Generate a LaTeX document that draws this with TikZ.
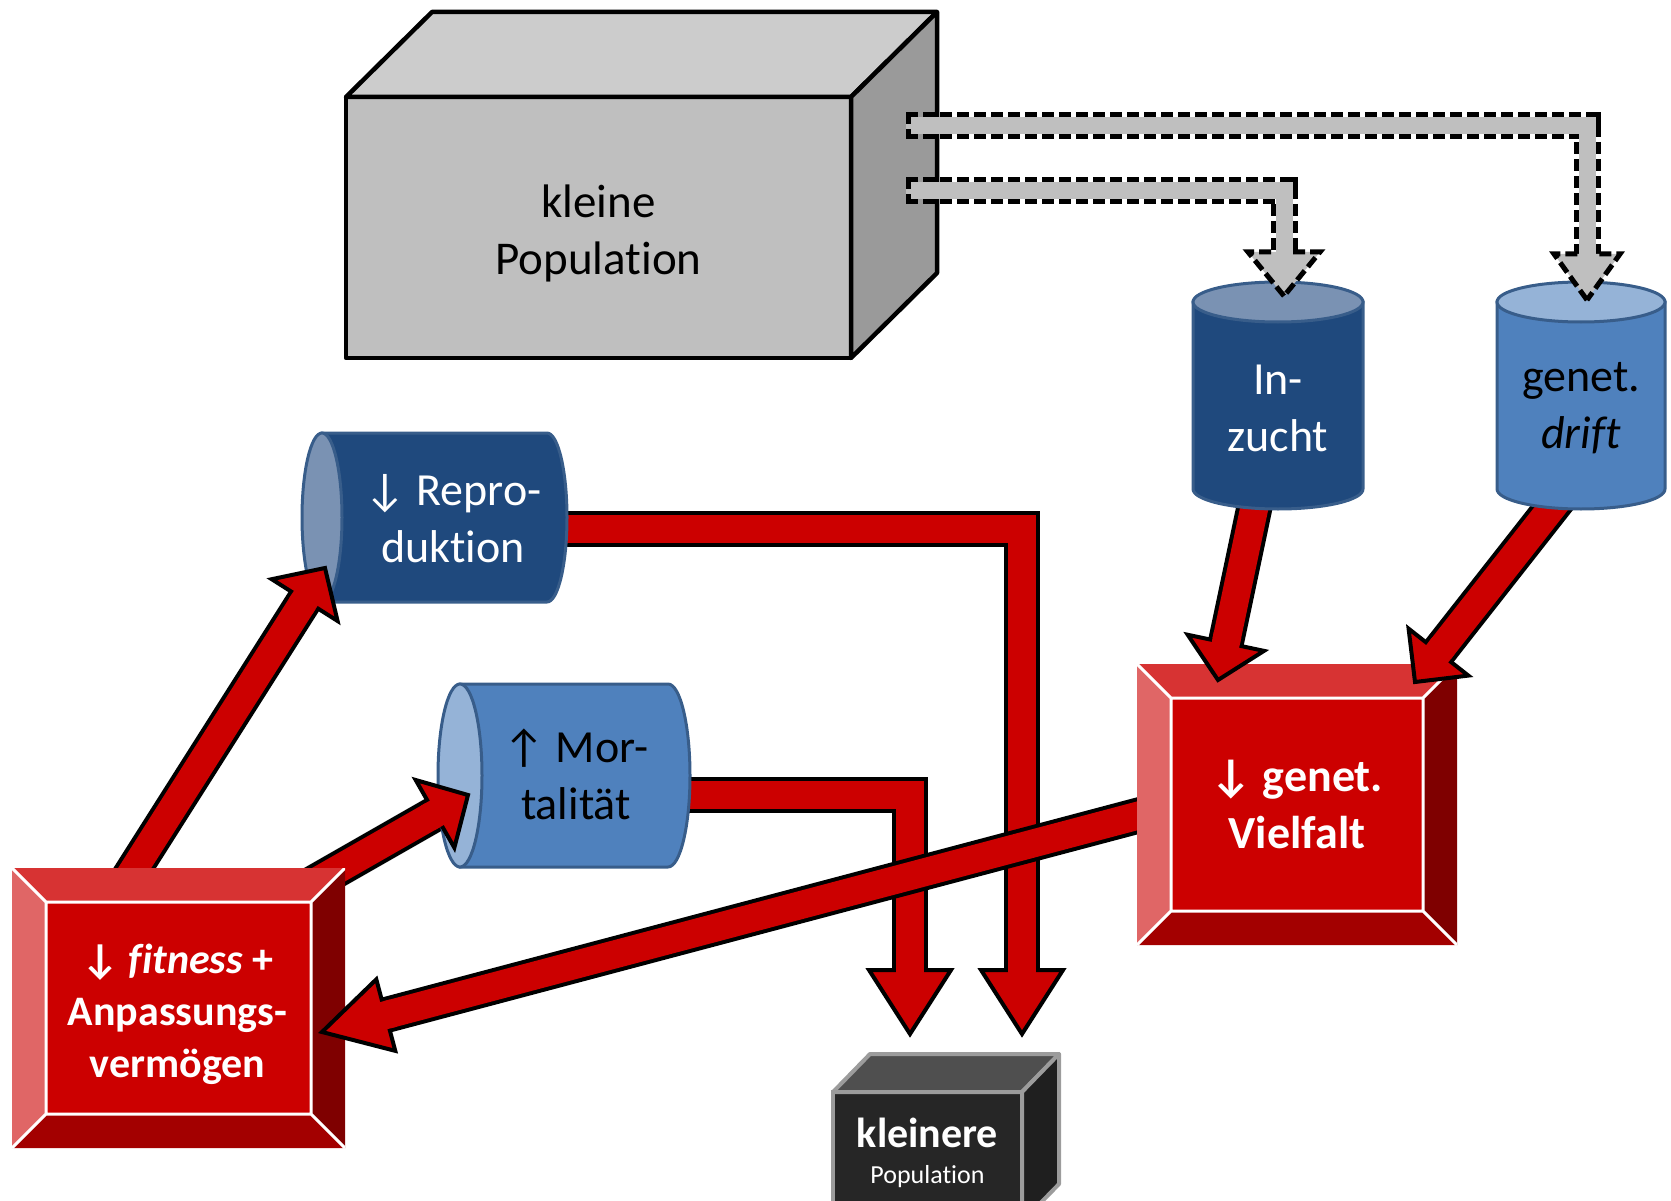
\documentclass[tikz,border=0pt]{standalone}
\usepackage{fontspec}
\setmainfont{Carlito}[Ligatures=NoCommon]
\usetikzlibrary{calc}

\definecolor{boxfront}{HTML}{BFBFBF}
\definecolor{boxtop}{HTML}{CCCCCC}
\definecolor{boxside}{HTML}{9A9A9A}
\definecolor{darkblue}{HTML}{1F497D}
\definecolor{darkbluetop}{HTML}{7A92B3}
\definecolor{midblue}{HTML}{4F81BD}
\definecolor{midbluetop}{HTML}{95B3D7}
\definecolor{cylrim}{HTML}{385D8A}
\definecolor{arrowred}{HTML}{CC0000}
\definecolor{bevtop}{HTML}{D73333}
\definecolor{bevleft}{HTML}{E06666}
\definecolor{bevbottom}{HTML}{A30000}
\definecolor{bevright}{HTML}{7F0000}
\definecolor{darkfront}{HTML}{262626}
\definecolor{darktop}{HTML}{4F4F4F}
\definecolor{darkside}{HTML}{1F1F1F}
\definecolor{darkrim}{HTML}{9C9C9C}

\pgfdeclarelayer{bg}
\pgfsetlayers{bg,main}

\tikzset{
  face/.style={line width=4.5pt, line join=round},
  cylrimline/.style={draw=cylrim, line width=3pt},
  cyltext/.style={align=center, font=\fontsize{46}{57}\selectfont},
  shaft/.style={draw=black, line width=4pt, double=arrowred, double distance=28pt},
  redtip/.style={fill=arrowred, draw=black, line width=4pt},
  grayshaft/.style={draw=boxfront, line width=17pt,
    preaction={draw=black, line width=27pt, dash pattern=on 12pt off 5pt}},
  graytip/.style={fill=boxfront, draw=black, line width=5pt, dash pattern=on 12pt off 5pt},
  bevelbox/.style={rectangle, fill=arrowred,
    path picture={
      \coordinate (pnw) at (path picture bounding box.north west);
      \coordinate (pne) at (path picture bounding box.north east);
      \coordinate (psw) at (path picture bounding box.south west);
      \coordinate (pse) at (path picture bounding box.south east);
      \fill[bevtop] (pnw) -- (pne) -- ++(-34,34) -- ([shift={(34,34)}]pnw) -- cycle;
      \fill[bevleft] (pnw) -- ++(34,34) -- ([shift={(34,-34)}]psw) -- (psw) -- cycle;
      \fill[bevbottom] (psw) -- ++(34,-34) -- ([shift={(-34,-34)}]pse) -- (pse) -- cycle;
      \fill[bevright] (pne) -- ++(-34,34) -- ([shift={(-34,-34)}]pse) -- (pse) -- cycle;
      \draw[white, line width=3pt] ([shift={(34,34)}]pnw) rectangle ([shift={(-34,-34)}]pse)
        (pnw) -- ++(34,34) (pne) -- ++(-34,34) (psw) -- ++(34,-34) (pse) -- ++(-34,-34);
    }},
  beveltext/.style={text=white, align=center}
}

% standing cylinder: centre, half width, half height, radius of end, body, end
\newcommand\vcyl[6]{%
  \filldraw[cylrimline, fill=#5] ($(#1)+(-#2,-#3+#4)$) -- ($(#1)+(-#2,#3-#4)$)
    arc[start angle=180, end angle=360, x radius=#2pt, y radius=#4pt] -- ($(#1)+(#2,-#3+#4)$) -- cycle;
  \filldraw[cylrimline, fill=#6] ($(#1)+(0,-#3+#4)$) ellipse[x radius=#2pt, y radius=#4pt];
}
% lying cylinder, open end on the left: centre, half length, half height, radius of end, body, end
\newcommand\hcyl[6]{%
  \filldraw[cylrimline, fill=#5] ($(#1)+(-#2+#4,-#3)$) -- ($(#1)+(#2-#4,-#3)$)
    arc[start angle=90, end angle=-90, x radius=#4pt, y radius=#3pt] -- ($(#1)+(-#2+#4,#3)$) -- cycle;
  \filldraw[cylrimline, fill=#6] ($(#1)+(-#2+#4,0)$) ellipse[x radius=#4pt, y radius=#3pt];
}
% head of a block arrow: tip, point behind it, length, half width
\newcommand\redhead[4]{%
  \draw[redtip] (#1) -- ($(#1)!#3!(#2)!#4!90:(#2)$) -- ($(#1)!#3!(#2)!#4!-90:(#2)$) -- cycle;
  \draw[arrowred, line width=28pt] ($(#1)!#3!(#2)!3pt!(#1)$) -- ($(#1)!#3!(#2)!8pt!(#2)$);
}
\newcommand\grayhead[4]{%
  \draw[graytip] (#1) -- ($(#1)!#3!(#2)!#4!90:(#2)$) -- ($(#1)!#3!(#2)!#4!-90:(#2)$) -- cycle;
  \draw[boxfront, line width=17pt] ($(#1)!#3!(#2)!4pt!(#1)$) -- ($(#1)!#3!(#2)!8pt!(#2)$);
}

\begin{document}
\begin{tikzpicture}[x=1pt, y=-1pt, every node/.style={outer sep=0pt}]
  \useasboundingbox (0,0) rectangle (1671,1201);

  % kleine Population
  \node[rectangle, draw=black, face, fill=boxfront, minimum width=505, minimum height=261] (big) at (598.5,227.5) {};
  \draw[face, fill=boxtop] (big.north west) -- ++(86,-85) -- ++(505,0) -- (big.north east) -- cycle;
  \draw[face, fill=boxside] (big.north east) -- ++(86,-85) -- ++(0,261) -- (big.south east) -- cycle;
  \node[align=center, font=\fontsize{47}{57}\selectfont] (bigText) at ([shift={(0,6)}]big.center) {kleine\\Population};

  % cylinders
  \vcyl{1278,395.5}{85}{113.5}{20}{darkblue}{darkbluetop}
  \vcyl{1581,395.5}{84}{113.5}{20}{midblue}{midbluetop}
  \hcyl{434.5,517.5}{132.5}{84.5}{20}{darkblue}{darkbluetop}
  \hcyl{564,775.5}{126}{91.5}{22}{midblue}{midbluetop}

  \node[cyltext, text=white] (inzucht) at (1278,408.5) {In-\\zucht};
  \node[cyltext] (drift) at (1581,408.5) {genet.\\\textit{drift}};
  \node[cyltext, text=white] (repro) at (453,518.5) {↓ Repro-\\duktion};
  \node[cyltext] (mort) at (576,774.5) {↑ Mor-\\talität};

  % bevelled boxes
  \node[bevelbox, minimum width=320, minimum height=281] (vielfalt) at (1297,804.5) {};
  \node[bevelbox, minimum width=333, minimum height=280] (fitness) at (178.5,1008) {};
  \node[beveltext, font=\bfseries\fontsize{46}{57}\selectfont] (vielfaltText) at (vielfalt.center) {↓ genet.\\Vielfalt};
  \node[beveltext, font=\bfseries\fontsize{42}{52}\selectfont] (fitnessText) at ([shift={(-1,6)}]fitness.center)
    {↓ \textit{fitness} +\\Anpassungs-\\vermögen};

  % kleinere Population
  \node[rectangle, draw=darkrim, line width=4pt, fill=darkfront, minimum width=189, minimum height=130] (kleiner) at (927.5,1157) {};
  \draw[darkrim, line width=4pt, line join=round, fill=darktop] (kleiner.north west) -- ++(37,-38) -- ++(189,0) -- (kleiner.north east) -- cycle;
  \draw[darkrim, line width=4pt, line join=round, fill=darkside] (kleiner.north east) -- ++(37,-38) -- ++(0,130) -- (kleiner.south east) -- cycle;
  \node[text=white, align=center, font=\fontsize{26}{37}\selectfont] (kleinerText) at ([shift={(0,-4)}]kleiner.center)
    {{\bfseries\fontsize{42}{46}\selectfont kleinere}\\[-1pt]Population};

  % arrow ends
  \coordinate (fitA) at ([shift={(-56.5,20)}]fitness.north);
  \coordinate (fitB) at ([shift={(-45,23)}]fitness.north east);
  \coordinate (vielA) at ([shift={(43,0)}]vielfalt.west);
  \coordinate (inzuchtA) at ([shift={(0,-13)}]inzucht.center);
  \coordinate (driftA) at ([shift={(59,-13)}]drift.center);
  \coordinate (reproA) at ([shift={(-18.5,10.5)}]repro.center);
  \coordinate (mortA) at ([shift={(-12,20.5)}]mort.center);
  \coordinate (bigA) at ([shift={(55,-101.5)}]big.east);
  \coordinate (bigB) at ([shift={(55,-36.5)}]big.east);
  \coordinate (reproIn) at (325,568);
  \coordinate (mortIn) at (468,795);
  \coordinate (fitIn) at (322,1032);
  \coordinate (vielIn) at (1218,680);
  \coordinate (vielInB) at (1415,682);
  \coordinate (kleinL) at (910,1034);
  \coordinate (kleinR) at (1022,1034);
  \coordinate (inzuchtIn) at (1284,296);
  \coordinate (driftIn) at (1587,300);

  \begin{pgfonlayer}{bg}
    \draw[shaft] (reproA) -| ($(kleinR)+(0,-64)$);
    \draw[shaft] (mortA) -| ($(kleinL)+(0,-64)$);
    \draw[shaft] (fitA) -- ($(reproIn)!38pt!(fitA)$);
    \draw[shaft] (fitB) -- ($(mortIn)!38pt!(fitB)$);
    \draw[shaft] (inzuchtA) -- ($(vielIn)!38pt!(inzuchtA)$);
    \draw[shaft] (driftA) -- ($(vielInB)!38pt!(driftA)$);
    \draw[shaft] (vielA) -- ($(fitIn)!66pt!(vielA)$);
  \end{pgfonlayer}

  \redhead{kleinR}{kleinR|-reproA}{64pt}{41pt}
  \redhead{kleinL}{kleinL|-mortA}{64pt}{41pt}
  \redhead{reproIn}{fitA}{38pt}{39pt}
  \redhead{mortIn}{fitB}{38pt}{39pt}
  \redhead{vielIn}{inzuchtA}{38pt}{39pt}
  \redhead{vielInB}{driftA}{38pt}{38pt}
  \redhead{fitIn}{vielA}{66pt}{37pt}

  % dashed grey arrows
  \draw[grayshaft] (bigA) -| ($(driftIn)+(0,-46)$);
  \draw[grayshaft] (bigB) -| ($(inzuchtIn)+(0,-44)$);
  \draw[line width=5pt, dash pattern=on 12pt off 5pt] ([shift={(2.5,-13.5)}]bigA) -- ([shift={(2.5,13.5)}]bigA);
  \draw[line width=5pt, dash pattern=on 12pt off 5pt] ([shift={(2.5,-13.5)}]bigB) -- ([shift={(2.5,13.5)}]bigB);
  \grayhead{driftIn}{driftIn|-bigA}{46pt}{33pt}
  \grayhead{inzuchtIn}{inzuchtIn|-bigB}{44pt}{36pt}
\end{tikzpicture}
\end{document}
